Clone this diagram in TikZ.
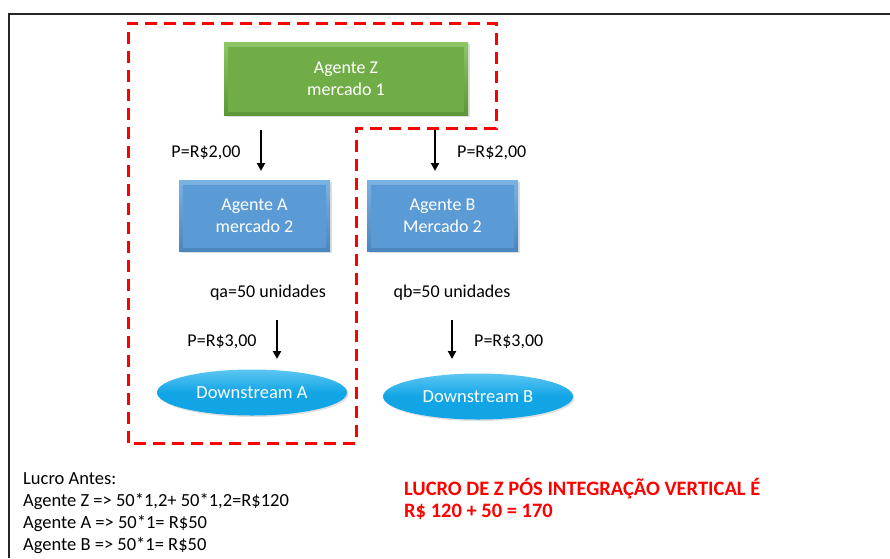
\documentclass[tikz,border=0pt]{standalone}
\usepackage{fontspec}
\setmainfont{Carlito}
\usetikzlibrary{arrows.meta,shapes.geometric,shadows}
\definecolor{zgreen}{HTML}{70AD47}
\definecolor{zgreenlt}{HTML}{8CC665}
\definecolor{zgreendk}{HTML}{5B9637}
\definecolor{ablue}{HTML}{5B9BD5}
\definecolor{abluelt}{HTML}{7AB2E2}
\definecolor{abluedk}{HTML}{4A86BE}
\definecolor{dcyan}{HTML}{12A5E6}
\definecolor{dcyanlt}{HTML}{5CC6F2}
\definecolor{redline}{HTML}{FF0000}
\definecolor{redtext}{HTML}{FF0000}
\tikzset{
  bevelbox/.style args={#1/#2/#3}{rectangle, minimum width=#1, minimum height=#2,
    draw=none, drop shadow={opacity=0.25, shadow xshift=1.5pt, shadow yshift=-1.5pt},
    top color=#3lt, bottom color=#3dk,
    path picture={\fill[#3] ([shift={(4pt,-4pt)}]path picture bounding box.north west)
       rectangle ([shift={(-4pt,4pt)}]path picture bounding box.south east);},
    text=white, align=center, font=\fontsize{18}{22}\selectfont},
  downell/.style={ellipse, minimum width=190pt, minimum height=46pt, inner sep=0pt,
    top color=dcyanlt, bottom color=dcyan, middle color=dcyan, draw=none,
    drop shadow={opacity=0.25, shadow xshift=1.5pt, shadow yshift=-1.5pt},
    text=white, font=\fontsize{18.5}{22}\selectfont},
  label18/.style={font=\fontsize{18}{21}\selectfont, inner sep=0pt},
  flowarrow/.style={-{Triangle[width=8pt,length=8pt]}, line width=2.6pt, black},
  groupline/.style={redline, line width=3pt, dash pattern=on 12pt off 7pt}
}
\begin{document}
\begin{tikzpicture}[x=1pt,y=-1pt]
\useasboundingbox (0,0) rectangle (890,558);
\fill[white] (0,0) rectangle (890,558);
% page frame
\coordinate (ftop) at (890,14);
\coordinate (fcorner) at (9,14);
\coordinate (fbot) at (9,558);
\draw[line width=2pt, black!85] (ftop) -- (fcorner) -- (fbot);

% firms
\node[bevelbox={244pt/73pt/zgreen}] (z) at (346,79) {Agente Z\\mercado 1};
\node[bevelbox={151pt/71pt/ablue}] (a) at (254.5,216) {Agente A\\mercado 2};
\node[bevelbox={151pt/71pt/ablue}] (b) at (442.5,216) {Agente B\\Mercado 2};
\node[downell] (da) at (252,392.5) {Downstream A};
\node[downell] (db) at (478,396.5) {Downstream B};

% arrow anchor points
\coordinate (za) at (261,130);
\coordinate (aa) at (261,171);
\coordinate (zb) at (435,130);
\coordinate (bb) at (435,171);
\coordinate (a2) at (277,320);
\coordinate (da2) at (277,359);
\coordinate (b2) at (452,320);
\coordinate (db2) at (452,359);
\draw[flowarrow] (za) -- (aa);
\draw[flowarrow] (zb) -- (bb);
\draw[flowarrow] (a2) -- (da2);
\draw[flowarrow] (b2) -- (db2);

% price and quantity labels
\node[label18] (p1) at (206,153) {P=R\$2,00};
\node[label18, anchor=west] (p2) at (457,153) {P=R\$2,00};
\node[label18] (qa) at (268,293) {qa=50 unidades};
\node[label18] (qb) at (452,293) {qb=50 unidades};
\node[label18] (p3) at (222,342) {P=R\$3,00};
\node[label18, anchor=west] (p4) at (474,342) {P=R\$3,00};

% integrated firm boundary
\coordinate (g1) at (128,23);
\coordinate (g2) at (496,23);
\coordinate (g3) at (496,128);
\coordinate (g4) at (356,128);
\coordinate (g5) at (356,443);
\coordinate (g6) at (128,443);
\draw[groupline] (g6) -- (g1) -- (g2) -- (g3) -- (g4) -- (g5) -- cycle;

% profit notes
\node[anchor=north west, align=left, inner sep=0pt,
  font=\fontsize{18.5}{22}\selectfont] (lucro) at (23,472)
  {Lucro Antes:\\Agente Z => 50*1,2+ 50*1,2=R\$120\\Agente A => 50*1= R\$50\\Agente B => 50*1= R\$50};
\node[anchor=north west, align=left, inner sep=0pt, text=redtext,
  font=\fontsize{20.5}{22}\selectfont\bfseries] (pos) at (404,478)
  {LUCRO DE Z PÓS INTEGRAÇÃO VERTICAL É\\R\$ 120 + 50 = 170};
\end{tikzpicture}
\end{document}
